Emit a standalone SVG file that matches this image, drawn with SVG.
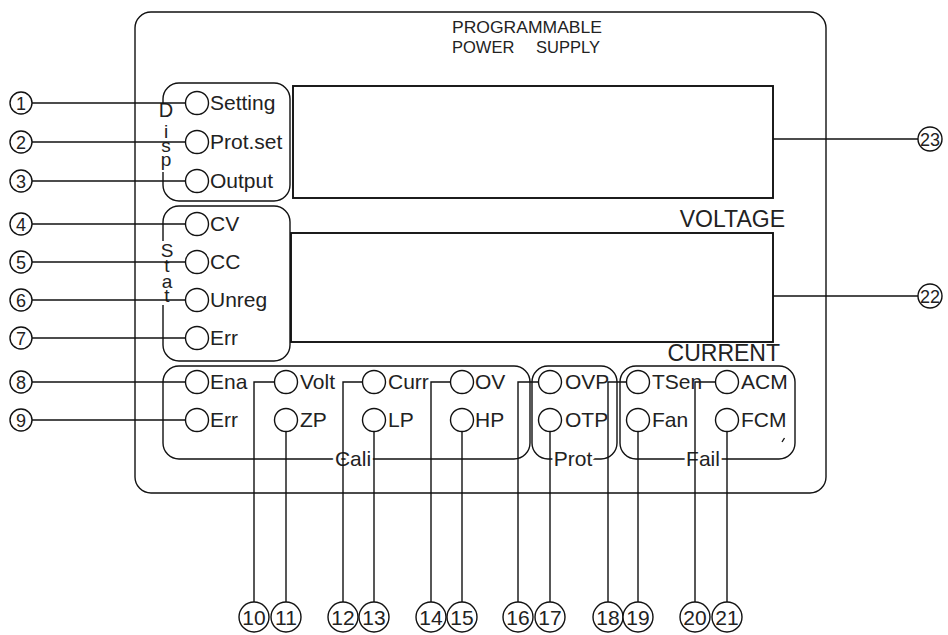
<svg xmlns="http://www.w3.org/2000/svg" width="948" height="635" viewBox="0 0 948 635">
<style>
.b{fill:none;stroke:#111;stroke-width:1.4}
.d{fill:none;stroke:#111;stroke-width:1.9}
.led{fill:#fff;stroke:#111;stroke-width:1.4}
.c{fill:#fff;stroke:#111;stroke-width:1.4}
.k{fill:none;stroke:#111;stroke-width:1.4}
.gap{fill:#fff}
.w{stroke:#fff;stroke-width:6;paint-order:stroke;stroke-linejoin:round}
text{font-family:"Liberation Sans",Arial,sans-serif;fill:#222}
.l{font-size:21px}
.n{font-size:18px;text-anchor:middle}
.nb{font-size:21px;text-anchor:middle}
.t{font-size:16.5px}
.big{font-size:23px;text-anchor:end}
.v{font-size:19px;text-anchor:middle}
.g{font-size:21px;text-anchor:middle}
</style>
<rect width="948" height="635" fill="#fff"/>

<g id="panel">
<rect class="b" x="135" y="12" width="691" height="481" rx="16"/>
<text class="t" x="452" y="33" textLength="150" lengthAdjust="spacingAndGlyphs">PROGRAMMABLE</text>
<text class="t" x="452" y="53">POWER<tspan x="536">SUPPLY</tspan></text>
</g>

<g id="display-voltage">
<rect class="d" x="293" y="86" width="480" height="112"/>
<text class="big" x="785" y="227">VOLTAGE</text>
</g>
<g id="display-current">
<rect class="d" x="291" y="233" width="482" height="109"/>
<text class="big" x="780" y="361">CURRENT</text>
</g>

<g id="disp">
<rect class="b" x="163" y="83" width="127" height="118" rx="16"/>
<rect class="gap" x="159" y="104" width="14" height="68"/>
<text class="v"><tspan x="166" y="117" style="font-size:20px">D</tspan><tspan x="166" y="138">i</tspan><tspan x="166" y="152">s</tspan><tspan x="166" y="166">p</tspan></text>
</g>
<g id="stat">
<rect class="b" x="163" y="206" width="127" height="155" rx="16"/>
<rect class="gap" x="159" y="241" width="14" height="64"/>
<text class="v"><tspan x="167" y="257">S</tspan><tspan x="167" y="272">t</tspan><tspan x="167" y="288">a</tspan><tspan x="167" y="302">t</tspan></text>
</g>
<g id="cali">
<rect class="b" x="163" y="366" width="367" height="93" rx="16"/>
<text class="g w" x="353" y="466">Cali</text>
</g>
<g id="prot">
<rect class="b" x="532" y="366" width="85" height="93" rx="16"/>
<text class="g w" x="573" y="466">Prot</text>
</g>
<g id="fail">
<rect class="b" x="620" y="366" width="175" height="93" rx="16"/>
<text class="g w" x="703" y="466">Fail</text>
<path class="k" d="M782,442 L784.5,438"/>
</g>

<g id="connectors" class="k">
<path d="M32,103H185.5"/>
<path d="M32,142H185.5"/>
<path d="M32,181H185.5"/>
<path d="M32,224H185.5"/>
<path d="M32,262H185.5"/>
<path d="M32,300H185.5"/>
<path d="M32,338H185.5"/>
<path d="M32,382H185.5"/>
<path d="M32,420H185.5"/>
<path d="M274.5,382H254V602"/>
<path d="M286,431.5V602"/>
<path d="M362.5,382H343V602"/>
<path d="M374,431.5V602"/>
<path d="M450.5,382H431V602"/>
<path d="M462,431.5V602"/>
<path d="M538.5,382H518V602"/>
<path d="M550,431.5V602"/>
<path d="M626.5,382H608V602"/>
<path d="M638,431.5V602"/>
<path d="M715.5,382H695V602"/>
<path d="M727,431.5V602"/>
<path d="M773,139H918"/>
<path d="M773,296H918"/>
</g>

<g id="led-setting"><circle class="led" cx="197" cy="103" r="11.5"/><text class="l" x="210" y="110">Setting</text></g>
<g id="led-protset"><circle class="led" cx="197" cy="142" r="11.5"/><text class="l" x="210" y="149">Prot.set</text></g>
<g id="led-output"><circle class="led" cx="197" cy="181" r="11.5"/><text class="l" x="210" y="188">Output</text></g>
<g id="led-cv"><circle class="led" cx="197" cy="224" r="11.5"/><text class="l" x="210" y="231">CV</text></g>
<g id="led-cc"><circle class="led" cx="197" cy="262" r="11.5"/><text class="l" x="210" y="269">CC</text></g>
<g id="led-unreg"><circle class="led" cx="197" cy="300" r="11.5"/><text class="l" x="210" y="307">Unreg</text></g>
<g id="led-err-stat"><circle class="led" cx="197" cy="338" r="11.5"/><text class="l" x="210" y="345">Err</text></g>
<g id="led-ena"><circle class="led" cx="197" cy="382" r="11.5"/><text class="l" x="210" y="389">Ena</text></g>
<g id="led-err-cali"><circle class="led" cx="197" cy="420" r="11.5"/><text class="l" x="210" y="427">Err</text></g>
<g id="led-volt"><circle class="led" cx="286" cy="382" r="11.5"/><text class="l" x="300" y="389">Volt</text></g>
<g id="led-zp"><circle class="led" cx="286" cy="420" r="11.5"/><text class="l" x="300" y="427">ZP</text></g>
<g id="led-curr"><circle class="led" cx="374" cy="382" r="11.5"/><text class="l" x="388" y="389">Curr</text></g>
<g id="led-lp"><circle class="led" cx="374" cy="420" r="11.5"/><text class="l" x="388" y="427">LP</text></g>
<g id="led-ov"><circle class="led" cx="462" cy="382" r="11.5"/><text class="l" x="475" y="389">OV</text></g>
<g id="led-hp"><circle class="led" cx="462" cy="420" r="11.5"/><text class="l" x="475" y="427">HP</text></g>
<g id="led-ovp"><circle class="led" cx="550" cy="382" r="11.5"/><text class="l" x="565" y="389">OVP</text></g>
<g id="led-otp"><circle class="led" cx="550" cy="420" r="11.5"/><text class="l" x="565" y="427">OTP</text></g>
<g id="led-tsen"><circle class="led" cx="638" cy="382" r="11.5"/><text class="l" x="652" y="389">TSen</text></g>
<g id="led-fan"><circle class="led" cx="638" cy="420" r="11.5"/><text class="l" x="652" y="427">Fan</text></g>
<g id="led-acm"><circle class="led" cx="727" cy="382" r="11.5"/><text class="l" x="741" y="389">ACM</text></g>
<g id="led-fcm"><circle class="led" cx="727" cy="420" r="11.5"/><text class="l" x="741" y="427">FCM</text></g>

<g id="n1"><circle class="c" cx="21" cy="103" r="11"/><text class="n" x="21" y="109.5">1</text></g>
<g id="n2"><circle class="c" cx="21" cy="142" r="11"/><text class="n" x="21" y="148.5">2</text></g>
<g id="n3"><circle class="c" cx="21" cy="181" r="11"/><text class="n" x="21" y="187.5">3</text></g>
<g id="n4"><circle class="c" cx="21" cy="224" r="11"/><text class="n" x="21" y="230.5">4</text></g>
<g id="n5"><circle class="c" cx="21" cy="262" r="11"/><text class="n" x="21" y="268.5">5</text></g>
<g id="n6"><circle class="c" cx="21" cy="300" r="11"/><text class="n" x="21" y="306.5">6</text></g>
<g id="n7"><circle class="c" cx="21" cy="338" r="11"/><text class="n" x="21" y="344.5">7</text></g>
<g id="n8"><circle class="c" cx="21" cy="382" r="11"/><text class="n" x="21" y="388.5">8</text></g>
<g id="n9"><circle class="c" cx="21" cy="420" r="11"/><text class="n" x="21" y="426.5">9</text></g>
<g id="n10"><circle class="c" cx="254" cy="617" r="15"/><text class="nb" x="254" y="624.5">10</text></g>
<g id="n11"><circle class="c" cx="286" cy="617" r="15"/><text class="nb" x="286" y="624.5">11</text></g>
<g id="n12"><circle class="c" cx="343" cy="617" r="15"/><text class="nb" x="343" y="624.5">12</text></g>
<g id="n13"><circle class="c" cx="374" cy="617" r="15"/><text class="nb" x="374" y="624.5">13</text></g>
<g id="n14"><circle class="c" cx="431" cy="617" r="15"/><text class="nb" x="431" y="624.5">14</text></g>
<g id="n15"><circle class="c" cx="462" cy="617" r="15"/><text class="nb" x="462" y="624.5">15</text></g>
<g id="n16"><circle class="c" cx="518" cy="617" r="15"/><text class="nb" x="518" y="624.5">16</text></g>
<g id="n17"><circle class="c" cx="550" cy="617" r="15"/><text class="nb" x="550" y="624.5">17</text></g>
<g id="n18"><circle class="c" cx="608" cy="617" r="15"/><text class="nb" x="608" y="624.5">18</text></g>
<g id="n19"><circle class="c" cx="638" cy="617" r="15"/><text class="nb" x="638" y="624.5">19</text></g>
<g id="n20"><circle class="c" cx="695" cy="617" r="15"/><text class="nb" x="695" y="624.5">20</text></g>
<g id="n21"><circle class="c" cx="727" cy="617" r="15"/><text class="nb" x="727" y="624.5">21</text></g>
<g id="n22"><circle class="c" cx="930" cy="296" r="12"/><text class="n" x="930" y="302.5">22</text></g>
<g id="n23"><circle class="c" cx="930" cy="139" r="12"/><text class="n" x="930" y="145.5">23</text></g>
</svg>
